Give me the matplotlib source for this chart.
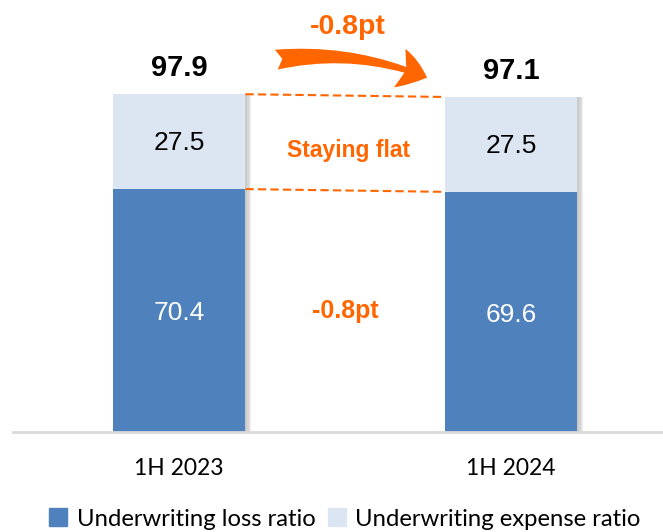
import numpy as np
import matplotlib.pyplot as plt
from matplotlib.patches import FancyArrowPatch, Patch

periods = ['1H 2023', '1H 2024']
loss_ratio = [70.4, 69.6]
expense_ratio = [27.5, 27.5]
combined = [97.9, 97.1]

darkBlue = '#4F81BD'
lightBlue = '#DCE6F2'
orange = '#FF6600'

fig = plt.figure(figsize=(6.63, 5.32), dpi=100)
ax = fig.add_axes([13/663, 100/532, 650/663, 432/532])

x = np.arange(len(periods))
w = 0.4

# soft shadow on the right of each bar
for k in range(4):
    ax.bar(x + 0.006 + k*0.004, combined, w, color='gray', alpha=0.12, zorder=1)
ax.bar(x, loss_ratio, w, color=darkBlue, zorder=2)
ax.bar(x, expense_ratio, w, bottom=loss_ratio, color=lightBlue, zorder=2)

for i in range(len(x)):
    ax.text(x[i], loss_ratio[i]/2 - 0.8, '{:.1f}'.format(loss_ratio[i]), ha='center', va='center',
            color='white', fontsize=19, family='Liberation Sans', zorder=3)
    ax.text(x[i], loss_ratio[i] + expense_ratio[i]/2 - 0.4, '{:.1f}'.format(expense_ratio[i]),
            ha='center', va='center', color='black', fontsize=19, family='Liberation Sans', zorder=3)
    ax.text(x[i], combined[i] + 3.6, '{:.1f}'.format(combined[i]), ha='center', va='bottom',
            fontsize=21, fontweight='bold', family='Liberation Sans')

# dashed connectors
ax.plot([w/2, 1 - w/2], [combined[0], combined[1]], ls='--', color=orange, lw=1.5, dashes=(4, 2))
ax.plot([w/2, 1 - w/2], [loss_ratio[0], loss_ratio[1]], ls='--', color=orange, lw=1.5, dashes=(4, 2))

ax.text(0.51, 81.5, 'Staying flat', ha='center', va='center',
        color=orange, fontsize=16.5, fontweight='bold', family='Liberation Sans')
ax.text(0.5, 35.0, '-0.8pt', ha='center', va='center',
        color=orange, fontsize=18, fontweight='bold', family='Liberation Sans')
ax.text(0.51, 117.5, '-0.8pt', ha='center', va='center',
        color=orange, fontsize=20.5, fontweight='bold', family='Liberation Sans')

arrow = FancyArrowPatch((0.285, 107.8), (0.755, 102.4), connectionstyle='arc3,rad=-0.14',
                        arrowstyle='fancy,head_length=1.3,head_width=1.8,tail_width=0.9',
                        mutation_scale=16, color=orange, lw=0)
ax.add_patch(arrow)

ax.set_xlim(-0.5, 1.458)
ax.set_ylim(0, 125.2)
ax.set_xticks(x)
ax.set_xticklabels(periods, fontsize=16.5, family='Lato')
ax.tick_params(axis='x', length=0, pad=19)
ax.set_yticks([])
for s in ['top', 'right', 'left']:
    ax.spines[s].set_visible(False)
ax.spines['bottom'].set_color('#D9D9D9')
ax.spines['bottom'].set_linewidth(2)

handles = [Patch(color=darkBlue, label='Underwriting loss ratio'),
           Patch(color=lightBlue, label='Underwriting expense ratio')]
fig.legend(handles=handles, loc='center', bbox_to_anchor=(345/663, 1 - 519/532), ncol=2,
           frameon=False, prop={'family': 'Lato', 'size': 17.2}, handlelength=0.75, handleheight=0.75,
           handletextpad=0.4, columnspacing=0.5, borderaxespad=0)

fig.savefig('out.png', dpi=100)
